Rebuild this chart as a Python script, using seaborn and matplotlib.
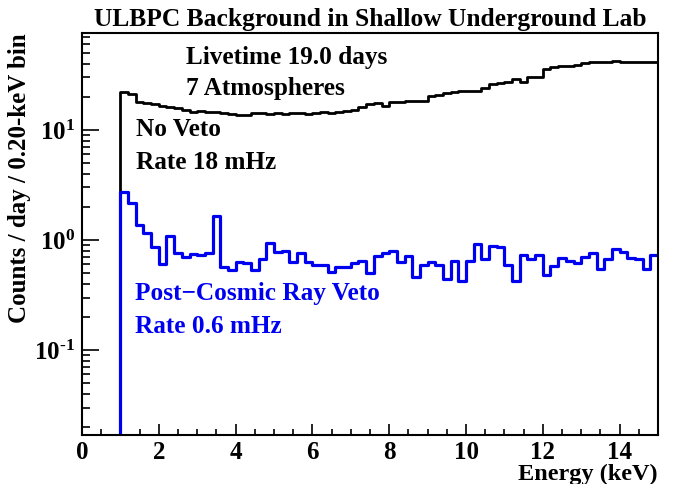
import matplotlib
matplotlib.use('Agg')
import matplotlib.pyplot as plt
import numpy as np
import pandas as pd
import seaborn as sns
from matplotlib.ticker import FuncFormatter, LogLocator, MultipleLocator, NullFormatter

sns.set_theme(style='ticks')
plt.rcParams['font.family'] = ['Liberation Serif', 'DejaVu Serif']
plt.rcParams['font.weight'] = 'bold'
plt.rcParams['mathtext.fontset'] = 'custom'
plt.rcParams['mathtext.rm'] = 'Liberation Serif:bold'
plt.rcParams['mathtext.bf'] = 'Liberation Serif:bold'
plt.rcParams['figure.facecolor'] = 'white'
plt.rcParams['axes.facecolor'] = 'white'
for key in ['text.color', 'axes.labelcolor', 'xtick.color', 'ytick.color', 'axes.edgecolor']:
    plt.rcParams[key] = 'black'

# 0.20 keV bins from 0 to 15 keV (threshold at 1 keV, empty below)
E_MIN, E_MAX, BIN_W = 0.0, 15.0, 0.2
BIN_EDGES = np.linspace(E_MIN, E_MAX, 76)

# counts / day / bin
NO_VETO = [0, 0, 0, 0, 0,
           22.3, 21.2, 18.1, 17.4, 17.1, 16.5, 16.3, 15.8, 15.2, 14.7,
           15.0, 14.5, 14.7, 14.2, 13.9, 13.6, 13.7, 14.3, 14.2, 13.9,
           14.2, 13.9, 14.2, 14.3, 13.9, 14.3, 14.6, 14.2, 14.7, 15.0,
           15.2, 16.0, 17.2, 17.6, 16.6, 18.1, 18.1, 18.4, 18.5, 18.5,
           20.3, 20.8, 21.6, 22.3, 22.4, 22.7, 22.7, 23.9, 26.0, 26.6,
           27.5, 29.0, 27.5, 30.5, 30.0, 35.5, 37.6, 38.5, 38.5, 39.0,
           40.9, 41.3, 41.7, 41.7, 42.4, 41.3, 41.7, 41.3, 41.3, 41.3]

CR_VETO = [0, 0, 0, 0, 0,
           2.75, 2.17, 1.37, 1.16, 0.86, 0.605, 1.09, 0.767, 0.705, 0.746,
           0.726, 0.767, 1.66, 0.565, 0.533, 0.627, 0.614, 0.533, 0.667, 0.945,
           0.783, 0.794, 0.631, 0.767, 0.635, 0.593, 0.593, 0.508, 0.565, 0.565,
           0.622, 0.649, 0.505, 0.715, 0.767, 0.794, 0.631, 0.715, 0.458, 0.593,
           0.635, 0.593, 0.442, 0.644, 0.421, 0.649, 0.914, 0.667, 0.882, 0.858,
           0.593, 0.424, 0.731, 0.667, 0.731, 0.481, 0.584, 0.681, 0.644, 0.614,
           0.705, 0.767, 0.541, 0.667, 0.823, 0.783, 0.691, 0.667, 0.545, 0.731]

centers = (BIN_EDGES[:-1] + BIN_EDGES[1:]) / 2
df = pd.DataFrame({'energy': centers, 'no_veto': NO_VETO, 'veto': CR_VETO})

BLUE = '#0000f0'

fig, ax = plt.subplots(figsize=(6.85, 4.84), dpi=100)
fig.subplots_adjust(left=0.1197, right=0.9606, bottom=0.1012, top=0.9318)

sns.histplot(df, x='energy', weights='no_veto', binwidth=BIN_W, binrange=(E_MIN, E_MAX),
             element='step', fill=False, color='black', linewidth=2.0, ax=ax)
sns.histplot(df, x='energy', weights='veto', binwidth=BIN_W, binrange=(E_MIN, E_MAX),
             element='step', fill=False, color=BLUE, linewidth=2.3, ax=ax)

ax.set_yscale('log')
ax.set_xlim(E_MIN, E_MAX)
ax.set_ylim(0.0169, 76)


def decade_label(v, pos):
    p = int(round(np.log10(v)))
    exp = ('\u2010%d' % -p) if p < 0 else '%d' % p
    return r'$\mathbf{10^{%s}}$' % exp


ax.xaxis.set_major_locator(MultipleLocator(2))
ax.xaxis.set_minor_locator(MultipleLocator(0.5))
ax.yaxis.set_major_locator(LogLocator(base=10, numticks=10))
ax.yaxis.set_minor_locator(LogLocator(base=10, subs=np.arange(2, 10), numticks=20))
ax.yaxis.set_major_formatter(FuncFormatter(decade_label))
ax.yaxis.set_minor_formatter(NullFormatter())

ax.tick_params(which='both', direction='in', top=False, right=False,
               width=1.2, colors='black', labelsize=18)
ax.tick_params(axis='x', which='major', length=8, pad=4)
ax.tick_params(axis='x', which='minor', length=4)
ax.tick_params(axis='y', which='major', length=12, pad=5)
ax.tick_params(axis='y', which='minor', length=6)
for lab in ax.get_xticklabels():
    lab.set_fontweight('bold')

for s in ax.spines.values():
    s.set_visible(True)
    s.set_linewidth(1.5)
    s.set_color('black')

ax.set_title('ULBPC Background in Shallow Underground Lab', fontsize=18.4,
             fontweight='bold', pad=5)
ax.set_xlabel('Energy (keV)', fontsize=17.5, fontweight='bold', loc='right')
ax.xaxis.set_label_coords(1.0, -0.071)
ax.set_ylabel('Counts / day / 0.20-keV bin', fontsize=18, fontweight='bold', loc='top')
ax.yaxis.set_label_coords(-0.088, 1.0)

txt = dict(transform=ax.transAxes, fontsize=18.2, fontweight='bold', va='center', ha='left')
ax.text(0.181, 0.940, 'Livetime 19.0 days', color='black', **txt)
ax.text(0.181, 0.863, '7 Atmospheres', color='black', **txt)
ax.text(0.094, 0.759, 'No Veto', color='black', **txt)
ax.text(0.094, 0.679, 'Rate 18 mHz', color='black', **txt)
ax.text(0.092, 0.351, 'Post\u2212Cosmic Ray Veto', color=BLUE, **txt)
ax.text(0.092, 0.271, 'Rate 0.6 mHz', color=BLUE, **txt)

plt.savefig('out.png', dpi=100)
plt.close()
